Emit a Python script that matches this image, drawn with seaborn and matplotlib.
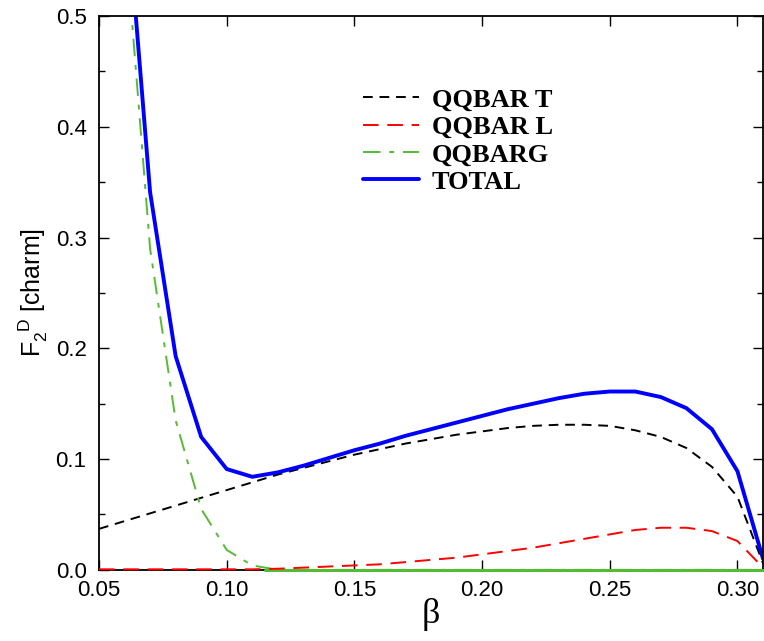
import matplotlib
matplotlib.use("Agg")
import matplotlib.pyplot as plt
import numpy as np
import pandas as pd
import seaborn as sns
from matplotlib.ticker import MultipleLocator, FormatStrFormatter

# beta grid and the four curves
beta = [0.05, 0.06, 0.07, 0.08, 0.09, 0.10, 0.11, 0.12, 0.13, 0.14, 0.15,
        0.16, 0.17, 0.18, 0.19, 0.20, 0.21, 0.22, 0.23, 0.24, 0.25, 0.26,
        0.27, 0.28, 0.29, 0.30, 0.31]
qqbar_t = [0.037, 0.044, 0.051, 0.058, 0.065, 0.072, 0.079, 0.086, 0.092,
           0.098, 0.104, 0.109, 0.114, 0.118, 0.122, 0.125, 0.128, 0.130,
           0.131, 0.131, 0.130, 0.126, 0.120, 0.110, 0.093, 0.066, 0.006]
qqbar_l = [0.0005, 0.0005, 0.0005, 0.0005, 0.0005, 0.0005, 0.0005, 0.001,
           0.002, 0.003, 0.004, 0.005, 0.007, 0.009, 0.011, 0.014, 0.017,
           0.020, 0.024, 0.028, 0.032, 0.036, 0.038, 0.038, 0.035, 0.026,
           0.002]
qqbarg = [1.10, 0.58, 0.29, 0.135, 0.055, 0.018, 0.004, 0.0, 0.0, 0.0, 0.0,
          0.0, 0.0, 0.0, 0.0, 0.0, 0.0, 0.0, 0.0, 0.0, 0.0, 0.0, 0.0, 0.0,
          0.0, 0.0, 0.0]
total = [1.14, 0.625, 0.341, 0.193, 0.120, 0.091, 0.084, 0.088, 0.094,
         0.101, 0.108, 0.114, 0.121, 0.127, 0.133, 0.139, 0.145, 0.150,
         0.155, 0.159, 0.161, 0.161, 0.156, 0.146, 0.127, 0.089, 0.010]

df = pd.DataFrame({"beta": beta, "QQBAR T": qqbar_t, "QQBAR L": qqbar_l,
                   "QQBARG": qqbarg, "TOTAL": total})

sns.set_style("ticks")
plt.rcParams["font.family"] = ["Liberation Sans", "DejaVu Sans"]
plt.rcParams["mathtext.fontset"] = "custom"
plt.rcParams["mathtext.rm"] = "Liberation Sans"
plt.rcParams["mathtext.it"] = "Liberation Sans"
for k in ["text.color", "axes.labelcolor", "xtick.color", "ytick.color",
          "axes.edgecolor"]:
    plt.rcParams[k] = "black"

fig = plt.figure(figsize=(7.64, 6.41), dpi=100)
ax = fig.add_axes([0.1296, 0.111, 0.8691, 0.864])

sns.lineplot(data=df, x="beta", y="QQBAR T", ax=ax, color="black", lw=1.4,
             label="QQBAR T")
ax.lines[-1].set_dashes([5, 3.5])
sns.lineplot(data=df, x="beta", y="QQBAR L", ax=ax, color="red", lw=1.4,
             label="QQBAR L")
ax.lines[-1].set_dashes([8, 4.5])
ax.lines[-1].set_clip_on(False)
ax.lines[-1].set_zorder(3)
sns.lineplot(data=df, x="beta", y="QQBARG", ax=ax, color="#55bb33", lw=1.4,
             label="QQBARG")
ax.lines[-1].set_dashes([9, 4.5, 2.5, 4.5])
sns.lineplot(data=df, x="beta", y="TOTAL", ax=ax, color="blue", lw=2.8,
             label="TOTAL")

ax.set_xlim(0.05, 0.31)
ax.set_ylim(0.0, 0.5)
ax.xaxis.set_major_locator(MultipleLocator(0.05))
ax.yaxis.set_major_locator(MultipleLocator(0.1))
ax.yaxis.set_minor_locator(MultipleLocator(0.05))
ax.xaxis.set_major_formatter(FormatStrFormatter("%.2f"))
ax.yaxis.set_major_formatter(FormatStrFormatter("%.1f"))
ax.tick_params(which="both", direction="in", top=True, right=True,
               width=1.0, labelsize=16, color="black", labelcolor="black")
ax.tick_params(which="major", length=7)
ax.tick_params(which="minor", length=4)
ax.tick_params(axis="y", pad=9)
ax.tick_params(axis="x", pad=7)
for s in ax.spines.values():
    s.set_linewidth(1.3)
    s.set_color("black")

# green QQBARG runs along the axis once it vanishes
ax.axhline(0.0, xmin=(0.115 - 0.05) / 0.26, color="#55bb33", lw=2.2,
           zorder=2.6, clip_on=False)

ax.set_xlabel("β", family="Liberation Serif", fontsize=26, labelpad=-2)
ax.set_ylabel(r"F$_2^{\ \ D}$ [charm]", fontsize=18, labelpad=4)

leg = ax.legend(loc="upper left", bbox_to_anchor=(0.362, 0.913), frameon=False,
                handlelength=2.1, handletextpad=0.5, labelspacing=0.15,
                prop={"family": "Liberation Serif", "weight": "bold",
                      "size": 19})

fig.savefig("out.png", dpi=100)
